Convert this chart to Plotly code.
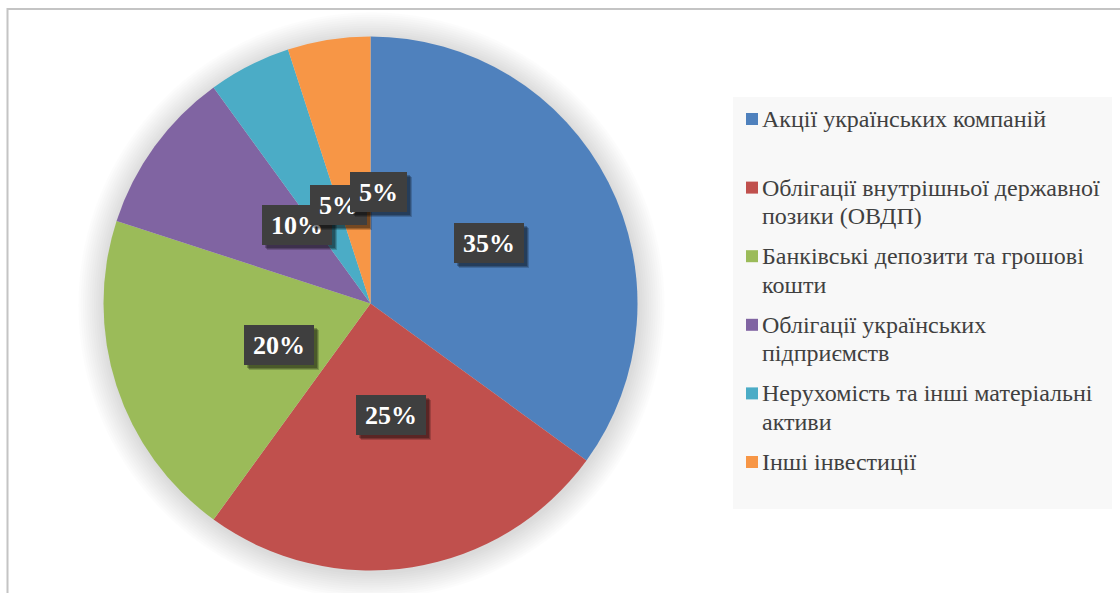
import math
import plotly.graph_objects as go

# ---- data ----
labels = [
    "Акції українських компаній",
    "Облігації внутрішньої державної позики (ОВДП)",
    "Банківські депозити та грошові кошти",
    "Облігації українських підприємств",
    "Нерухомість та інші матеріальні активи",
    "Інші інвестиції",
]
legend_lines = [
    ["Акції українських компаній"],
    ["Облігації внутрішньої державної", "позики (ОВДП)"],
    ["Банківські депозити та грошові", "кошти"],
    ["Облігації українських", "підприємств"],
    ["Нерухомість та інші матеріальні", "активи"],
    ["Інші інвестиції"],
]
values = [35, 25, 20, 10, 5, 5]
colors = ["#4F81BD", "#C0504D", "#9BBB59", "#8064A2", "#4BACC6", "#F79646"]

W, H = 1120, 593
SERIF = "Times New Roman"


def px(x):
    return x / W


def py(y):
    return 1 - y / H


# pie geometry (pixels)
CX, CY, R = 370.5, 303.5, 267.0

fig = go.Figure()
fig.add_trace(go.Pie(
    labels=labels,
    values=values,
    sort=False,
    direction="clockwise",
    rotation=0,
    marker=dict(colors=colors, line=dict(width=0)),
    textinfo="none",
    hoverinfo="label+percent",
    domain=dict(x=[px(CX - R), px(CX + R)], y=[py(CY + R), py(CY - R)]),
    showlegend=False,
))

shapes = []
# outer chart border (left / top visible)
shapes.append(dict(type="rect", xref="paper", yref="paper",
                   x0=px(7.5), x1=px(1130), y0=py(605), y1=py(9),
                   line=dict(color="#c4c4c4", width=2), fillcolor="rgba(0,0,0,0)",
                   layer="below"))
# soft glow around pie
for k in range(12):
    rr = R + 2 + 2.2 * k
    shapes.append(dict(type="circle", xref="paper", yref="paper",
                       x0=px(CX + 1 - rr), x1=px(CX + 1 + rr),
                       y0=py(CY + 2 + rr), y1=py(CY + 2 - rr),
                       line=dict(width=0), fillcolor="rgba(0,0,0,0.012)",
                       layer="below"))
# legend background
shapes.append(dict(type="rect", xref="paper", yref="paper",
                   x0=px(733), x1=px(1112), y0=py(509), y1=py(97),
                   line=dict(width=0), fillcolor="#f8f8f8", layer="below"))

annotations = []
# legend entries
ITEM0, ITEM_STEP, LINE_STEP = 119.0, 68.6, 28.5
for i, lines in enumerate(legend_lines):
    yc = ITEM0 + ITEM_STEP * i
    shapes.append(dict(type="rect", xref="paper", yref="paper",
                       x0=px(746), x1=px(758), y0=py(yc + 6), y1=py(yc - 6),
                       line=dict(width=0), fillcolor=colors[i]))
    for j, line in enumerate(lines):
        annotations.append(dict(
            x=px(760), y=py(yc + LINE_STEP * j), xref="paper", yref="paper",
            text=line, showarrow=False, xanchor="left", yanchor="middle",
            font=dict(family=SERIF, size=24, color="#404040"),
        ))

# data labels (dark boxes at half radius)
total = sum(values)
cum = 0.0
label_specs = []
for v in values:
    mid = (cum + v / 2) / total * 2 * math.pi
    cum += v
    lx = CX + 0.5 * R * math.sin(mid)
    ly = CY - 0.5 * R * math.cos(mid)
    txt = f"{round(v / total * 100)}%"
    bw = 70 if len(txt) >= 3 else 57
    label_specs.append((lx, ly, txt, bw))

for lx, ly, txt, bw in label_specs:
    # shadow layers
    for (dx, dy, a) in [(5, 5, 0.18), (4, 4, 0.22), (3, 3, 0.25)]:
        annotations.append(dict(
            x=px(lx), y=py(ly), xref="paper", yref="paper", showarrow=False,
            text=" ", width=bw, height=40, xshift=dx, yshift=-dy,
            bgcolor=f"rgba(0,0,0,{a})", borderpad=0, borderwidth=0,
            font=dict(size=10),
        ))
    annotations.append(dict(
        x=px(lx), y=py(ly), xref="paper", yref="paper", showarrow=False,
        text=f"<b>{txt}</b>", width=bw, height=40, align="center", valign="middle",
        bgcolor="#3f3f3f", borderpad=0, borderwidth=0,
        font=dict(family=SERIF, size=26, color="white"),
    ))

fig.update_layout(
    width=W, height=H,
    margin=dict(l=0, r=0, t=0, b=0),
    paper_bgcolor="white",
    plot_bgcolor="white",
    shapes=shapes,
    annotations=annotations,
    showlegend=False,
)

fig.write_html("out.html", config={"displayModeBar": False},
               post_script="document.body.style.margin='0';document.body.style.padding='0';")
